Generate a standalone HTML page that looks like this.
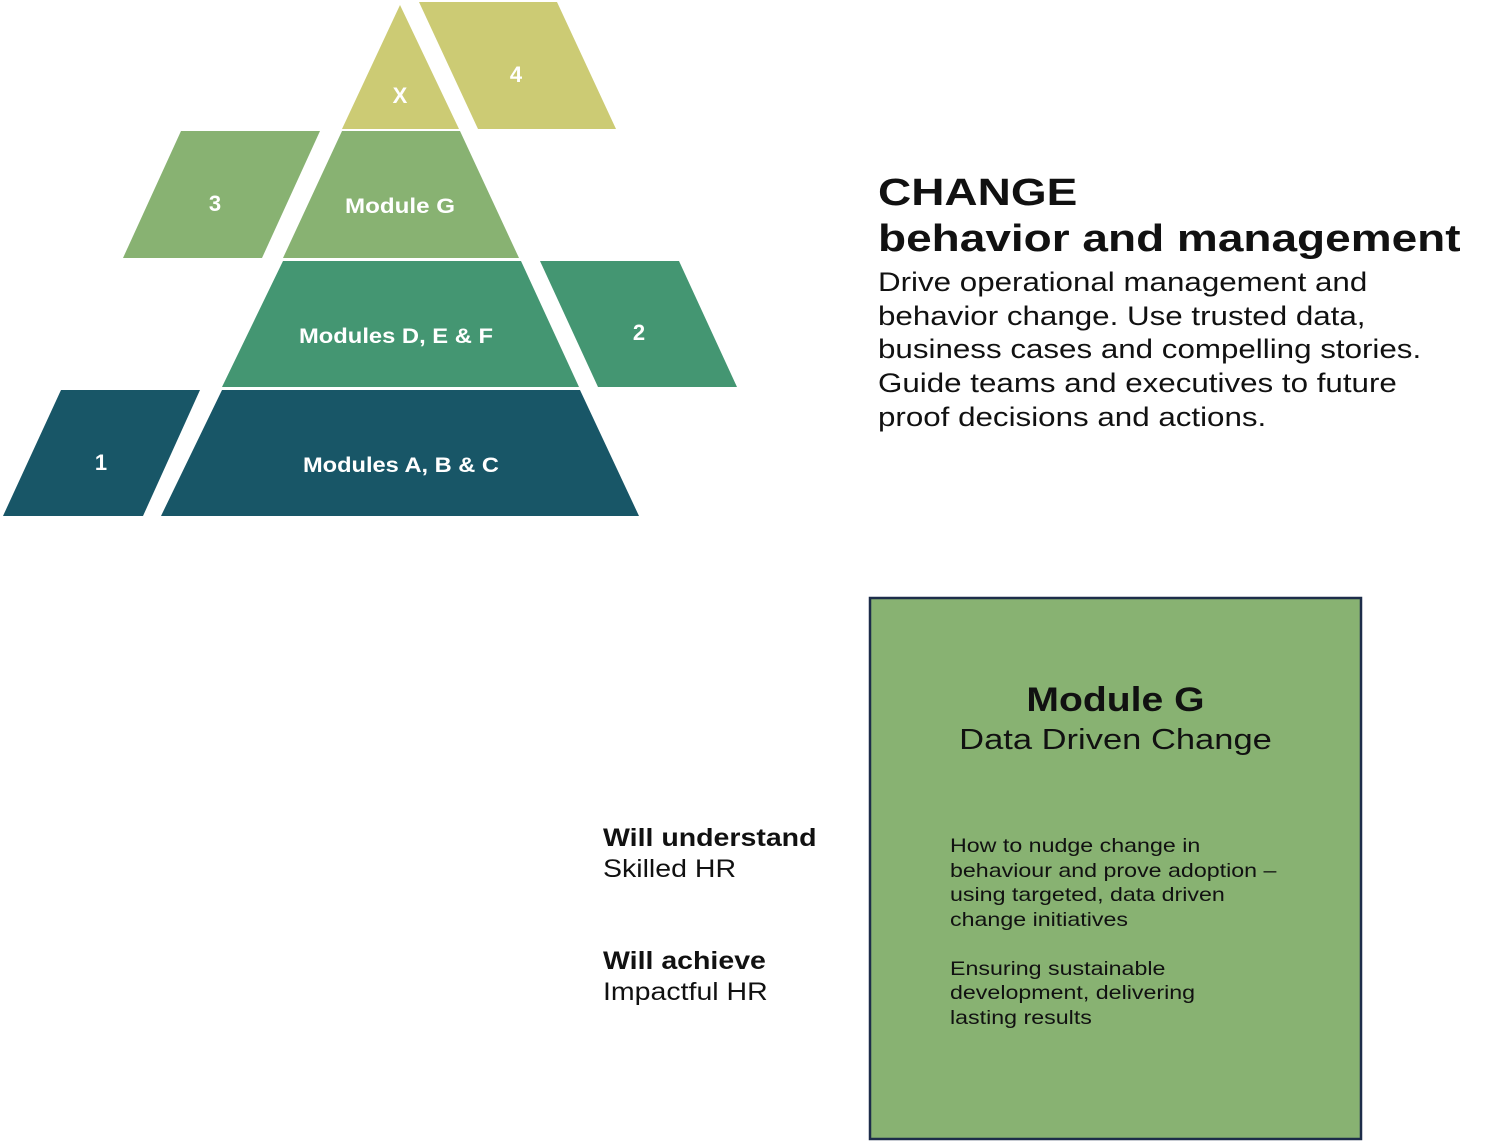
<!DOCTYPE html>
<html><head><meta charset="utf-8"><style>
body{margin:0;width:1500px;height:1141px;background:#fff;position:relative;overflow:hidden;font-family:"Liberation Sans",sans-serif;color:#111}
.t{position:absolute;white-space:nowrap;transform-origin:0 0}
</style></head><body>
<svg width="1500" height="1141" style="position:absolute;left:0;top:0">
<polygon points="400,5 459,129 342,129" fill="#CCCB74"/>
<polygon points="419,2 557,2 616,129 478,129" fill="#CCCB74"/>
<polygon points="342,131 460,131 519,258 283,258" fill="#88B272"/>
<polygon points="181,131 320,131 262,258 123,258" fill="#88B272"/>
<polygon points="283,261 521,261 579,387 222,387" fill="#449672"/>
<polygon points="540,261 679,261 737,387 598,387" fill="#449672"/>
<polygon points="222,390 580,390 639,516 161,516" fill="#185667"/>
<polygon points="61,390 200,390 143,516 3,516" fill="#185667"/>
<g font-family="Liberation Sans, sans-serif" font-weight="bold" fill="#fff" text-anchor="middle">
<text x="400" y="103" font-size="22">X</text>
<text x="516" y="82" font-size="22">4</text>
<text x="400" y="213" font-size="21" textLength="110" lengthAdjust="spacingAndGlyphs">Module G</text>
<text x="215" y="211" font-size="22">3</text>
<text x="396" y="343" font-size="21" textLength="194" lengthAdjust="spacingAndGlyphs">Modules D, E &amp; F</text>
<text x="639" y="340" font-size="22">2</text>
<text x="401" y="472" font-size="21" textLength="196" lengthAdjust="spacingAndGlyphs">Modules A, B &amp; C</text>
<text x="101" y="470" font-size="22">1</text>
</g>
<rect x="870" y="598" width="491" height="541" fill="#88B272" stroke="#1d2d4a" stroke-width="2.5"/>
</svg>
<div class="t" style="left:878px;top:170px;font-size:38px;font-weight:bold;line-height:46px;transform:scaleX(1.21)">CHANGE<br>behavior and management</div>
<div class="t" style="left:878px;top:266px;font-size:27px;line-height:33.7px;transform:scaleX(1.16)">Drive operational management and<br>behavior change. Use trusted data,<br>business cases and compelling stories.<br>Guide teams and executives to future<br>proof decisions and actions.</div>
<div class="t" style="left:870px;width:491px;top:681px;text-align:center;font-size:34px;font-weight:bold;transform-origin:50% 0;transform:scaleX(1.15)">Module G</div>
<div class="t" style="left:870px;width:491px;top:724px;text-align:center;font-size:29px;transform-origin:50% 0;transform:scaleX(1.19)">Data Driven Change</div>
<div class="t" style="left:950px;top:834px;font-size:19.5px;line-height:24.5px;transform:scaleX(1.19)">How to nudge change in<br>behaviour and prove adoption –<br>using targeted, data driven<br>change initiatives<br><br>Ensuring sustainable<br>development, delivering<br>lasting results</div>
<div class="t" style="left:603px;top:823px;font-size:25px;line-height:31px;transform:scaleX(1.14)"><b>Will understand</b><br>Skilled HR</div>
<div class="t" style="left:603px;top:946px;font-size:25px;line-height:31px;transform:scaleX(1.14)"><b>Will achieve</b><br>Impactful HR</div>
</body></html>
